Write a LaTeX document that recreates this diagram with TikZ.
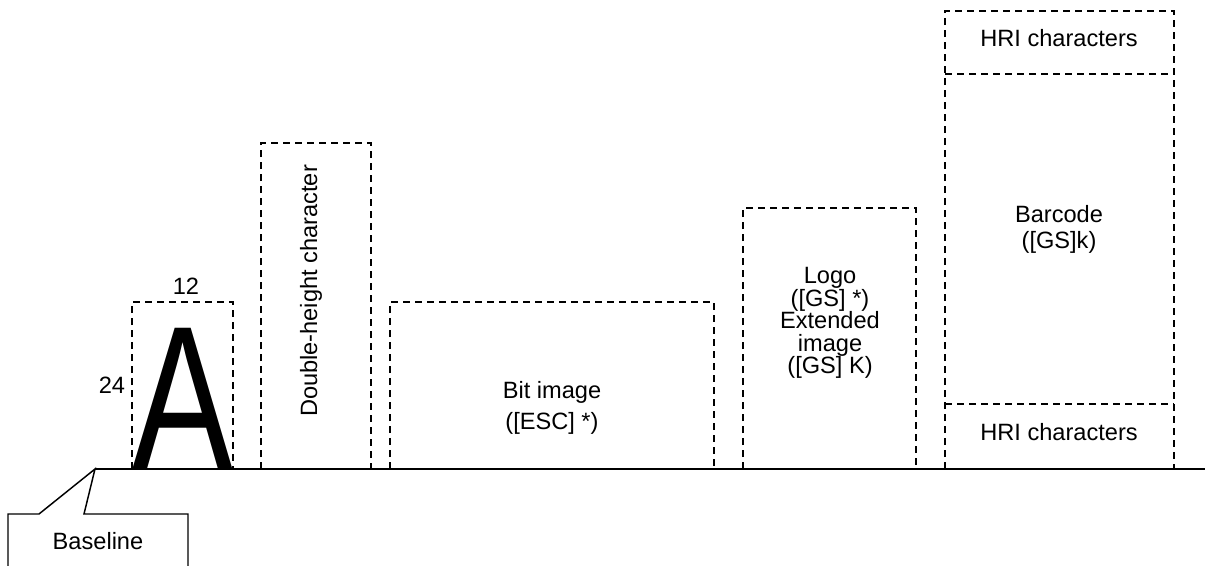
\documentclass[tikz,border=0pt]{standalone}
\usepackage{fontspec}
\setmainfont{Liberation Sans}
\begin{document}
\begin{tikzpicture}[x=0.75pt,y=-0.75pt,
  dbox/.style={draw,line width=1.1pt,dash pattern=on 5.5pt off 3.5pt},
  solid line/.style={draw,line width=1.1pt},
  txt/.style={font=\fontsize{17.7}{17.7}\selectfont,inner sep=0pt,align=center},
  lbl/.style={font=\fontsize{17.7}{17.7}\selectfont,inner sep=0pt}]
\useasboundingbox (0,0) rectangle (1221,565);
% baseline
\coordinate (bl0) at (95,469);
\coordinate (bl1) at (1205,469);
\draw[solid line] (bl0) -- (bl1);
% callout
\coordinate (c1) at (8,566);
\coordinate (c2) at (8,514);
\coordinate (c3) at (39,514);
\coordinate (c4) at (84,514);
\coordinate (c5) at (188,514);
\coordinate (c6) at (188,566);
\draw[solid line,line join=miter] (c1) -- (c2) -- (c3) -- (bl0) -- (c4) -- (c5) -- (c6);
\node[lbl] (baseline) at (98,541) {Baseline};
% A box
\draw[dbox] (132,469) -- (132,302) -- (233,302) -- (233,469);
\node[inner sep=0pt,anchor=base] (bigA) at (183,469) {\fontsize{154}{154}\selectfont\scalebox{0.735}[1]{A}};
\node[lbl] (w12) at (186,286) {12};
\node[lbl] (h24) at (112,385) {24};
% double-height
\draw[dbox] (261,469) -- (261,143) -- (371,143) -- (371,469);
\node[lbl,rotate=90] (dbl) at (311,291) {Double-height character};
% bit image
\draw[dbox] (390,469) -- (390,302) -- (714,302) -- (714,469);
\node[lbl] (bit1) at (552,392) {Bit image};
\node[lbl] (bit2) at (552,423) {([ESC] *)};
% logo
\draw[dbox] (743,469) -- (743,208) -- (916,208) -- (916,469);
\node[txt,font=\fontsize{17.7}{16.9}\selectfont] (logo) at (830,323) {Logo\\([GS] *)\\Extended\\image\\([GS] K)};
% barcode
\draw[dbox] (945,469) -- (945,11) -- (1174,11) -- (1174,469);
\draw[dbox] (945,74) -- (1174,74);
\draw[dbox] (945,404) -- (1174,404);
\node[lbl] (hri1) at (1059,38) {HRI characters};
\node[lbl] (hri2) at (1059,432) {HRI characters};
\node[txt,font=\fontsize{17.7}{19.5}\selectfont] (bc) at (1059,229) {Barcode\\([GS]k)};
\end{tikzpicture}
\end{document}
